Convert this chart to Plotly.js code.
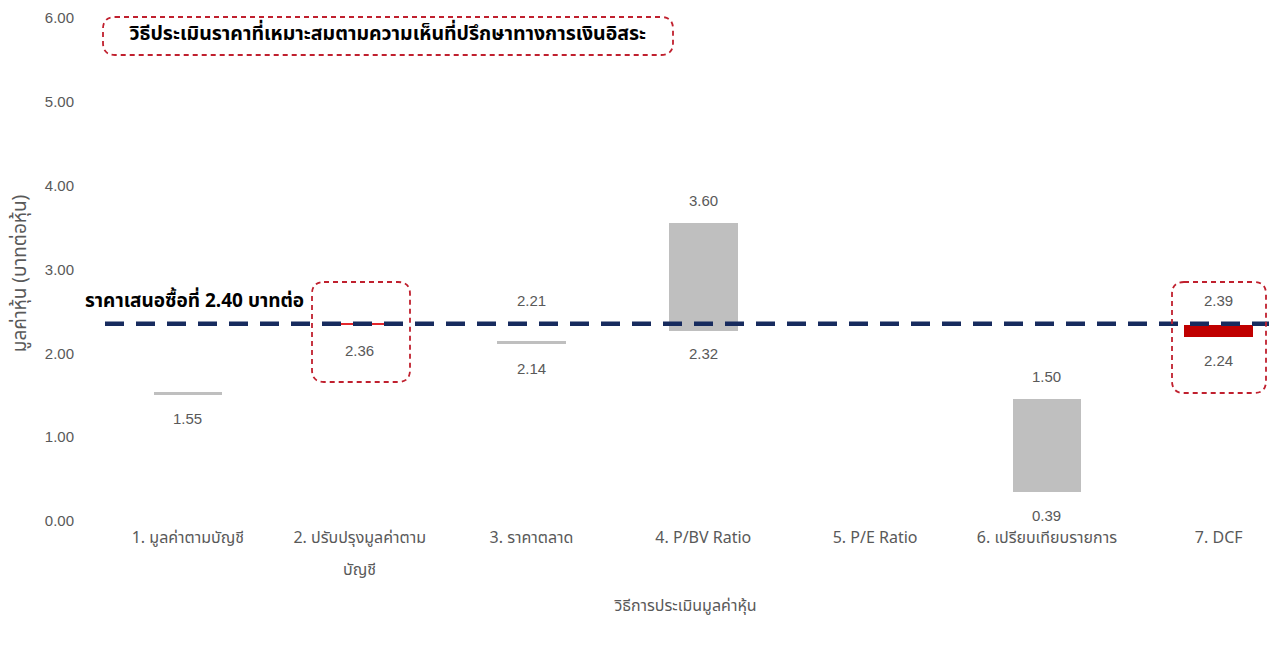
<!DOCTYPE html>
<html>
<head>
<meta charset="utf-8">
<script src="https://cdn.plot.ly/plotly-3.0.1.min.js"></script>
<style>html,body{margin:0;padding:0;background:#fff;}#chart{width:1269px;height:650px;}</style>
</head>
<body>
<div id="chart"></div>
<script>
// ---- data ----
var categories = ["1. มูลค่าตามบัญชี", "2. ปรับปรุงมูลค่าตาม<br>บัญชี", "3. ราคาตลาด", "4. P/BV Ratio", "5. P/E Ratio", "6. เปรียบเทียบรายการ", "7. DCF"];
var labelHigh = [null, null, 2.21, 3.60, null, 1.50, 2.39];
var labelLow  = [1.55, 2.36, 2.14, 2.32, null, 0.39, 2.24];
var barLow    = [1.55, 2.38, 2.16, 2.32, null, 0.39, 2.24];
var barHigh   = [1.59, 2.41, 2.20, 3.60, null, 1.50, 2.39];
var highlighted = [false, true, false, false, false, false, true];
var offerPrice = 2.40;
var offerLabel = "ราคาเสนอซื้อที่ 2.40 บาทต่อ";
var chartTitle = "วิธีประเมินราคาที่เหมาะสมตามความเห็นที่ปรึกษาทางการเงินอิสระ";
var xTitle = "วิธีการประเมินมูลค่าหุ้น";
var yTitle = "มูลค่าหุ้น (บาทต่อหุ้น)";
var yTicks = [0, 1, 2, 3, 4, 5, 6];

// ---- build ----
var idx = categories.map(function(_, i){ return i; });
var barColors = highlighted.map(function(h, i){ return h ? (i === 1 ? '#e3262b' : '#c00000') : '#bfbfbf'; });
var bars = {
  type: 'bar',
  x: idx,
  base: barLow,
  y: barHigh.map(function(v, i){ return (v === null || barLow[i] === null) ? null : v - barLow[i]; }),
  width: 0.4,
  marker: {color: barColors, line: {width: 0}},
  hoverinfo: 'skip',
  showlegend: false
};

var fontNum = 'Liberation Sans, Arial, sans-serif';
var fontThai = 'Noto Sans Thai, Tahoma, DejaVu Sans, sans-serif';
var tickColor = '#595959';
var annotations = [];
idx.forEach(function(i){
  if (labelHigh[i] !== null) {
    // keep the upper label clear of the offer-price line
    var yh = (labelHigh[i] < offerPrice && offerPrice - labelHigh[i] < 0.3) ? offerPrice : labelHigh[i];
    annotations.push({x: i, y: yh, xref: 'x', yref: 'y', text: labelHigh[i].toFixed(2), showarrow: false, yshift: 23, font: {family: fontNum, size: 15, color: tickColor}});
  }
  if (labelLow[i] !== null) annotations.push({x: i, y: labelLow[i], xref: 'x', yref: 'y', text: labelLow[i].toFixed(2), showarrow: false, yshift: -23, font: {family: fontNum, size: 15, color: tickColor}});
});

// plot geometry (pixels)
var L = 102, T = 22, W = 1167, H = 503;
function px2paperX(p){ return (p - L) / W; }
function px2paperY(p){ return (T + H - p) / H; }

// category labels: first line as tick text, continuation line as annotation
var tickText = categories.map(function(c){ return c.split('<br>')[0]; });
categories.forEach(function(c, i){
  var parts = c.split('<br>');
  if (parts.length > 1) {
    annotations.push({x: i, xref: 'x', yref: 'paper', y: px2paperY(570), yanchor: 'middle', text: parts.slice(1).join('<br>'), showarrow: false, font: {family: fontThai, size: 16, color: tickColor}});
  }
});

annotations.push({xref: 'paper', yref: 'y', x: px2paperX(83), y: offerPrice, xanchor: 'left', yanchor: 'middle', yshift: 22, text: '<b>' + offerLabel + '</b>', showarrow: false, font: {family: fontThai, size: 19, color: '#000'}});
annotations.push({xref: 'paper', yref: 'paper', x: px2paperX(387), y: px2paperY(34), xanchor: 'center', yanchor: 'middle', text: '<b>' + chartTitle + '</b>', showarrow: false, font: {family: fontThai, size: 19.5, color: '#000'}});

function roundRect(x0, x1, y0, y1, rx, ry){
  return 'M' + (x0 + rx) + ',' + y1 + ' L' + (x1 - rx) + ',' + y1 +
    ' Q' + x1 + ',' + y1 + ' ' + x1 + ',' + (y1 - ry) +
    ' L' + x1 + ',' + (y0 + ry) +
    ' Q' + x1 + ',' + y0 + ' ' + (x1 - rx) + ',' + y0 +
    ' L' + (x0 + rx) + ',' + y0 +
    ' Q' + x0 + ',' + y0 + ' ' + x0 + ',' + (y0 + ry) +
    ' L' + x0 + ',' + (y1 - ry) +
    ' Q' + x0 + ',' + y1 + ' ' + (x0 + rx) + ',' + y1 + ' Z';
}
function boxPx(l, r, t, b){
  return roundRect(px2paperX(l), px2paperX(r), px2paperY(b), px2paperY(t), 12 / W, 12 / H);
}
var boxLine = {color: '#c0202e', width: 1.8, dash: '5px,4px'};
var shapes = [
  {type: 'line', xref: 'paper', yref: 'y', x0: px2paperX(105), x1: 1, y0: offerPrice, y1: offerPrice, line: {color: '#172b5e', width: 4.5, dash: '19px,12px'}},
  {type: 'path', xref: 'paper', yref: 'paper', path: boxPx(103, 673, 17, 55), line: boxLine},
  {type: 'path', xref: 'paper', yref: 'paper', path: boxPx(312, 410, 282, 382), line: boxLine},
  {type: 'path', xref: 'paper', yref: 'paper', path: boxPx(1172, 1266, 282, 393), line: boxLine}
];

var layout = {
  width: 1269, height: 650,
  margin: {l: L, r: 1269 - L - W, t: T, b: 650 - T - H},
  paper_bgcolor: '#fff', plot_bgcolor: '#fff',
  showlegend: false,
  bargap: 0,
  xaxis: {
    range: [-0.5, -0.5 + W / 171.8],
    tickmode: 'array', tickvals: idx, ticktext: tickText,
    showgrid: false, zeroline: false, showline: false, ticks: '',
    ticklabelstandoff: 1,
    tickfont: {family: fontThai, size: 16, color: tickColor},
    title: {text: xTitle, font: {family: fontThai, size: 16, color: tickColor}, standoff: 50},
    fixedrange: true
  },
  yaxis: {
    range: [0, 6],
    tickmode: 'array', tickvals: yTicks, ticktext: yTicks.map(function(v){ return v.toFixed(2); }),
    showgrid: false, zeroline: false, showline: false, ticks: '',
    ticklabelstandoff: 27, ticklabelshift: -4,
    tickfont: {family: fontNum, size: 15, color: tickColor},
    title: {text: yTitle, font: {family: fontThai, size: 19, color: tickColor}, standoff: 13},
    fixedrange: true
  },
  shapes: shapes,
  annotations: annotations
};

Plotly.newPlot('chart', [bars], layout, {displayModeBar: false, staticPlot: true});
</script>
</body>
</html>
